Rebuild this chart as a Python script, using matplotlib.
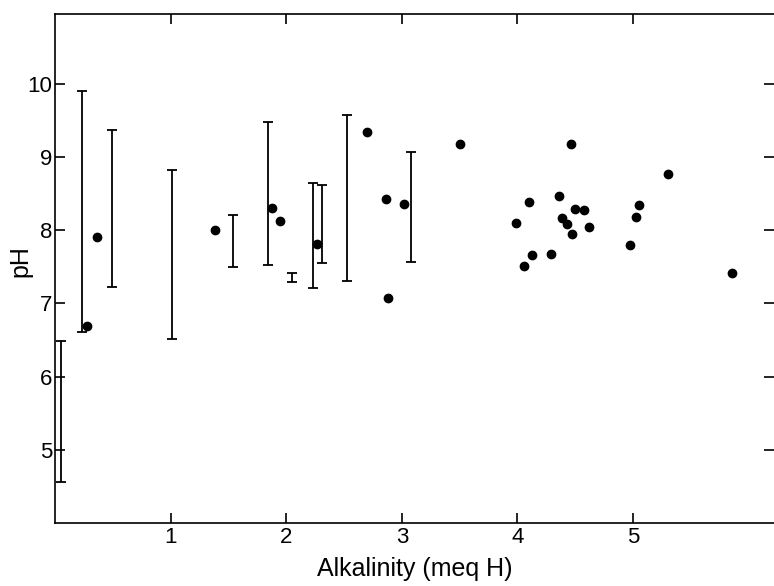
import numpy as np
import matplotlib
matplotlib.use("Agg")
import matplotlib.pyplot as plt

plt.rcParams['font.family'] = ['Liberation Sans', 'DejaVu Sans']

# range bars: alkalinity, pH low, pH high
bar_alk = [0.05, 0.23, 0.49, 1.01, 1.54, 1.84, 2.05, 2.23, 2.31, 2.53, 3.08]
bar_low = [4.56, 6.61, 7.22, 6.51, 7.50, 7.52, 7.29, 7.21, 7.55, 7.30, 7.56]
bar_high = [6.49, 9.90, 9.36, 8.82, 8.20, 9.48, 7.41, 8.64, 8.61, 9.57, 9.07]

# single measurements
pt_alk = [0.28, 0.36, 1.38, 1.88, 1.95, 2.27, 2.70, 2.86, 2.88, 3.02, 3.50,
          3.99, 4.06, 4.10, 4.13, 4.29, 4.36, 4.39, 4.43, 4.46, 4.47, 4.50,
          4.58, 4.62, 4.97, 5.03, 5.05, 5.30, 5.86]
pt_ph = [6.69, 7.91, 8.00, 8.30, 8.12, 7.81, 9.34, 8.43, 7.07, 8.36, 9.18,
         8.09, 7.51, 8.38, 7.66, 7.68, 8.47, 8.16, 8.08, 9.18, 7.94, 8.29,
         8.27, 8.04, 7.79, 8.18, 8.34, 8.77, 7.42]

x_ticks = [1, 2, 3, 4, 5]
y_ticks = [5, 6, 7, 8, 9, 10]

fig = plt.figure(figsize=(7.74, 5.86), dpi=100)
ax = fig.add_axes([0.0711, 0.1075, 0.9289, 0.8685])

bar_alk = np.array(bar_alk)
bar_low = np.array(bar_low)
bar_high = np.array(bar_high)
mid = (bar_low + bar_high) / 2
ax.errorbar(bar_alk, mid, yerr=[mid - bar_low, bar_high - mid], fmt='none',
            ecolor='black', elinewidth=1.3, capsize=3.5, capthick=1.3)
ax.plot(pt_alk, pt_ph, 'o', color='black', markersize=6)

ax.set_xlim(0, 6.22)
ax.set_ylim(4.0, 10.95)
ax.set_xticks(x_ticks)
ax.set_yticks(y_ticks)
ax.tick_params(direction='in', length=7, width=1.2, labelsize=16,
               top=True, right=True, pad=3)
ax.tick_params(axis='y', pad=2)
ax.spines['right'].set_visible(False)
for s in ['left', 'bottom', 'top']:
    ax.spines[s].set_linewidth(1.2)

ax.set_xlabel('Alkalinity (meq H)', fontsize=18, labelpad=6)
ax.set_ylabel('pH', fontsize=18)
ax.yaxis.set_label_coords(-0.031, 0.515)

fig.savefig('out.png', dpi=100)
